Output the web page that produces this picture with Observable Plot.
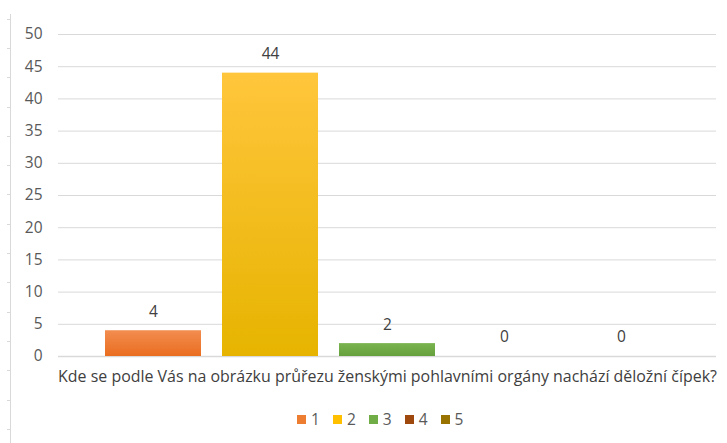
<!DOCTYPE html>
<html>
<head>
<meta charset="utf-8">
<script src="https://cdn.jsdelivr.net/npm/d3@7"></script>
<script src="https://cdn.jsdelivr.net/npm/@observablehq/plot@0.6"></script>
<style>
  html, body { margin: 0; padding: 0; background: #fff; }
  #wrap { position: relative; width: 727px; height: 443px; overflow: hidden; font-family: "Open Sans", sans-serif; }
  #deco { position: absolute; left: 10px; top: 14px; bottom: 0; width: 1px; background: #d9d9d9; }
  #decoticks { position: absolute; left: 7px; top: 4px; bottom: 0; width: 3px;
    background: repeating-linear-gradient(to bottom, transparent 0px, transparent 14.6px, #d9d9d9 14.6px, #d9d9d9 15.6px, transparent 15.6px, transparent 29.3px); }
  #legend { position: absolute; left: 297px; top: 408px; width: 300px; display: flex; justify-content: flex-start; }
  #legend div { justify-content: flex-start; margin: 0 !important; min-height: 0 !important; }
  #legend span[class*="swatch"] { margin-right: 13px !important; }
  #legend span[class*="swatch"] svg { margin-right: 5px !important; }
</style>
</head>
<body>
<div id="wrap">
  <div id="deco"></div>
  <div id="decoticks"></div>
  <div id="chart"></div>
  <div id="legend"></div>
</div>
<script>
const series = ["1", "2", "3", "4", "5"];
const values = [4, 44, 2, 0, 0];
const colors = ["#ed7d31", "#ffc000", "#70ad47", "#9e480e", "#997300"];
const gradTop = ["#f28d50", "#ffc63c", "#78b44f", "#a55018", "#a07b10"];
const gradBottom = ["#ea6d1f", "#e6b400", "#66a03e", "#94430c", "#8f6b00"];
const question = "Kde se podle Vás na obrázku průřezu ženskými pohlavními orgány nachází děložní čípek?";
const yTicks = [0, 5, 10, 15, 20, 25, 30, 35, 40, 45, 50];

const data = series.map((s, i) => ({series: s, value: values[i], grad: `url(#grad${i})`}));

const chart = Plot.plot({
  width: 727,
  height: 400,
  marginLeft: 58,
  marginRight: 11,
  marginTop: 34,
  marginBottom: 44,
  style: { fontFamily: "'Open Sans', sans-serif", fontSize: "15.5px", background: "transparent", overflow: "visible", color: "#595959" },
  x: { domain: series, paddingInner: 0.18, paddingOuter: 0.4, axis: null },
  y: { domain: [0, 50], ticks: yTicks, grid: false, label: null, tickSize: 0, tickPadding: 16 },
  color: { type: "identity" },
  marks: [
    Plot.gridY(yTicks.filter(t => t > 0), { stroke: "#d9d9d9", strokeOpacity: 1, strokeWidth: 1 }),
    Plot.ruleY([0], { stroke: "#d9d9d9", strokeWidth: 1.5 }),
    Plot.barY(data, { x: "series", y: "value", fill: "grad", style: "filter: drop-shadow(1.5px 1px 1.5px rgba(0,0,0,0.25))" }),
    Plot.text(data, { x: "series", y: "value", text: d => String(d.value), dy: -19, fill: "#404040", fontSize: 15.5 }),
    Plot.text([question], { frameAnchor: "bottom", dy: 25, fill: "#404040", fontSize: 15.95 })
  ]
});

chart.insertAdjacentHTML("afterbegin",
  "<defs>" + series.map((s, i) =>
    `<linearGradient id="grad${i}" x1="0" y1="0" x2="0" y2="1"><stop offset="0" stop-color="${gradTop[i]}"/><stop offset="1" stop-color="${gradBottom[i]}"/></linearGradient>`
  ).join("") + "</defs>");
document.getElementById("chart").appendChild(chart);

const legend = Plot.legend({
  color: { type: "ordinal", domain: series, range: colors },
  swatchSize: 9,
  style: { fontFamily: "'Open Sans', sans-serif", fontSize: "15.5px", color: "#595959", margin: 0 }
});
document.getElementById("legend").appendChild(legend);
</script>
</body>
</html>
